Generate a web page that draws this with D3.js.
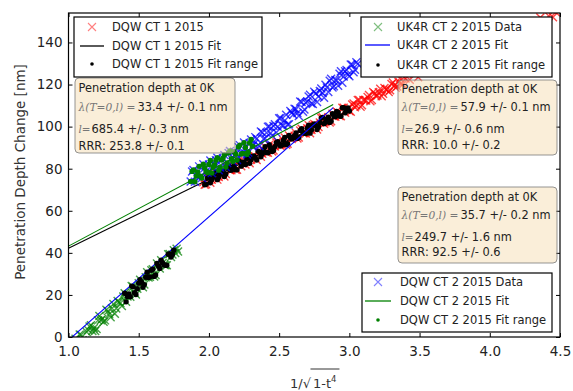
<!DOCTYPE html>
<html><head><meta charset="utf-8">
<script src="https://cdn.jsdelivr.net/npm/d3@7"></script>
<style>html,body{margin:0;padding:0;background:#fff}svg{display:block}</style>
</head><body>
<svg id="c" width="573" height="391"></svg>
<script>
const xTicks = [1.0,1.5,2.0,2.5,3.0,3.5,4.0,4.5];
const yTicks = [0,20,40,60,80,100,120,140];
const xDomain = [1.0, 4.5];
const yDomain = [0, 154];

// DQW CT 1 2015 data (red x)
const dqw1Data = [[1.96,73.6],[1.98,72.6],[2.00,75.8],[2.02,74.7],[2.04,77.6],[2.06,74.8],[2.08,77.3],[2.10,78.9],[2.12,77.5],[2.14,81.4],[2.16,79.3],[2.18,81.3],[2.20,79.5],[2.22,83.3],[2.24,82.6],[2.26,82.0],[2.28,85.9],[2.30,84.2],[2.32,86.1],[2.34,84.1],[2.36,87.8],[2.38,87.1],[2.40,90.4],[2.42,87.6],[2.44,89.8],[2.46,88.6],[2.48,92.4],[2.50,91.7],[2.52,91.3],[2.54,94.8],[2.56,91.9],[2.58,94.8],[2.60,94.7],[2.62,97.0],[2.64,94.8],[2.66,99.0],[2.68,96.9],[2.70,99.2],[2.72,96.9],[2.74,100.8],[2.76,100.6],[2.78,99.8],[2.80,104.1],[2.82,101.4],[2.84,103.5],[2.86,102.0],[2.88,106.1],[2.90,104.7],[2.92,106.7],[2.94,104.9],[2.96,109.0],[2.98,107.9],[3.00,107.4],[3.02,110.5],[3.04,109.2],[3.06,112.7],[3.08,109.4],[3.10,112.6],[3.12,112.4],[3.14,115.0],[3.16,112.6],[3.18,115.7],[3.20,114.8],[3.22,118.0],[3.24,115.6],[3.26,117.7],[3.28,116.4],[3.30,120.3],[3.32,119.5],[3.34,119.1],[3.36,123.0],[3.38,120.0],[3.40,122.9],[3.43,122.3],[3.46,125.2],[3.49,123.5],[3.52,126.3],[3.55,126.3],[3.58,129.3],[3.61,126.8],[3.64,129.6],[3.67,131.3],[3.70,130.1],[3.73,133.9],[3.76,132.5],[3.79,134.5],[3.82,133.2],[3.85,137.1],[3.88,135.7],[3.91,138.4],[3.94,137.2],[3.97,141.2],[4.00,139.6],[4.03,141.7],[4.06,140.4],[4.09,144.0],[4.12,142.8],[4.15,146.0],[4.18,143.9],[4.21,146.4],[4.24,146.4],[4.27,148.8],[4.30,146.7],[4.33,149.8],[4.36,151.9],[4.39,150.0],[4.42,152.6],[4.45,152.0],[4.47,154.4],
  [1.97,72.4],[1.99,75.6],[2.01,73.3],[2.03,75.9],[2.05,78.3],[2.07,76.0],[2.09,78.4],[2.11,76.3],[2.13,80.7],[2.15,79.3],[2.17,80.8],[2.19,79.5],[2.21,83.8],[2.23,81.2],[2.25,83.2],[2.27,85.0],[2.29,82.6],[2.31,85.8],[2.33,85.2],[2.35,88.3],[2.37,85.7],[2.39,88.9],[2.41,87.7],[2.43,91.4],[2.45,88.2],[2.47,90.5],[2.49,92.8],[2.51,90.8],[2.53,93.5],[2.55,91.4],[2.57,95.8],[2.59,94.1],[2.61,95.7],[2.63,94.4],[2.65,98.2],[2.67,97.1],[2.69,96.7],[2.71,100.7],[2.73,98.4],[2.75,101.3],[2.77,98.6],[2.79,102.0],[2.81,104.4],[2.83,102.1],[2.85,104.5],[2.87,102.6],[2.89,105.0],[2.91,107.2],[2.93,105.0],[2.95,109.0],[2.97,106.6],[2.99,108.9],[3.01,107.1],[3.03,111.0],[3.05,110.0],[3.07,112.7],[3.09,110.2],[3.11,112.6],[3.13,114.1],[3.15,112.0],[3.17,116.5],[3.19,114.4],[3.21,116.3],[3.23,114.4],[3.25,118.4],[3.27,117.7],[3.29,117.3],[3.31,121.0],[3.33,118.5],[3.35,121.3],[3.37,120.3],[3.39,123.4]];

// UK4R CT 2 2015 data (green x)
const uk4rData = [[1.02,-3.4],[1.04,-6.4],[1.06,-2.1],[1.08,1.2],[1.10,-1.6],[1.12,-1.8],[1.14,3.3],[1.16,5.6],[1.18,4.2],[1.20,3.8],[1.22,10.0],[1.24,8.5],[1.26,7.9],[1.28,12.3],[1.30,9.4],[1.32,15.7],[1.34,13.6],[1.36,16.5],[1.38,14.7],[1.40,20.8],[1.42,19.3],[1.44,19.1],[1.46,23.9],[1.48,20.2],[1.50,25.6],[1.52,26.0],[1.54,24.9],[1.56,30.8],[1.58,28.6],[1.60,32.2],[1.62,29.5],[1.64,33.8],[1.66,36.5],[1.68,34.3],[1.70,34.1],[1.72,39.5],[1.74,39.2],[1.76,39.9],
  [1.03,-6.2],[1.05,-0.8],[1.07,-2.5],[1.09,1.0],[1.11,-2.4],[1.13,2.4],[1.15,5.0],[1.17,2.8],[1.19,2.9],[1.21,7.9],[1.23,8.0],[1.25,7.2],[1.27,12.9],[1.29,10.8],[1.31,13.7],[1.33,11.0],[1.35,17.1],[1.37,16.1],[1.39,19.2],[1.41,16.7],[1.43,20.5],[1.45,24.2],[1.47,21.0],[1.49,22.9],[1.51,27.2],[1.53,23.6],[1.55,28.4],[1.57,28.3],[1.59,31.7],[1.61,28.8],[1.63,34.9],[1.65,32.6],[1.67,35.2],[1.69,34.1],[1.71,39.3],[1.73,38.0],[1.75,41.2],[1.77,42.0],[1.78,40.6]];

// DQW CT 2 2015 data (blue x)
const dqw2Data = [[1.87,73.9],[1.89,79.4],[1.91,76.5],[1.93,81.1],[1.95,75.6],[1.97,80.3],[1.99,78.1],[2.01,83.9],[2.03,80.7],[2.05,84.0],[2.07,79.3],[2.09,84.1],[2.11,86.5],[2.13,82.7],[2.15,88.4],[2.17,83.4],[2.19,87.0],[2.21,90.3],[2.23,87.0],[2.25,92.4],[2.27,86.8],[2.29,92.2],[2.31,90.7],[2.33,95.0],[2.35,91.2],[2.37,97.7],[2.39,94.1],[2.41,97.1],[2.43,100.1],[2.45,95.6],[2.47,101.1],[2.49,99.9],[2.51,104.1],[2.53,100.4],[2.55,105.6],[2.57,101.1],[2.59,106.6],[2.61,108.5],[2.63,106.5],[2.65,111.9],[2.67,107.1],[2.69,111.3],[2.71,114.3],[2.73,111.0],[2.75,116.6],[2.77,111.7],[2.79,116.9],[2.81,116.0],[2.83,119.9],[2.85,116.5],[2.87,122.8],[2.89,119.2],[2.91,122.0],[2.93,125.1],[2.95,120.9],[2.97,126.3],[2.99,124.6],[3.01,129.5],[3.03,125.8],[3.05,130.6],
  [1.88,78.7],[1.90,73.8],[1.92,78.5],[1.94,76.4],[1.96,82.1],[1.98,78.8],[2.00,82.0],[2.02,78.0],[2.04,81.8],[2.06,85.2],[2.08,80.6],[2.10,85.0],[2.12,80.8],[2.14,87.5],[2.16,84.7],[2.18,88.1],[2.20,84.1],[2.22,91.2],[2.24,87.3],[2.26,90.1],[2.28,87.7],[2.30,93.9],[2.32,91.7],[2.34,94.2],[2.36,90.8],[2.38,97.2],[2.40,94.4],[2.42,99.9],[2.44,97.0],[2.46,100.3],[2.48,97.2],[2.50,104.0],[2.52,100.5],[2.54,102.9],[2.56,101.0],[2.58,107.4],[2.60,105.6],[2.62,108.3],[2.64,105.0],[2.66,111.7],[2.68,108.1],[2.70,111.9],[2.72,115.2],[2.74,110.7],[2.76,115.7],[2.78,114.3],[2.80,118.1],[2.82,113.7],[2.84,118.6],[2.86,121.8],[2.88,118.6],[2.90,122.1],[2.92,119.4],[2.94,126.3],[2.96,123.8],[2.98,126.9],[3.00,123.9],[3.02,129.4],[3.04,127.0],[3.06,129.8]];

// fitted lines (endpoints)
const dqw1Fit = [[1.0,42.2],[3.0,107.8]];
const uk4rFit = [[1.0,-1.5],[2.885,109.0]];
const dqw2Fit = [[1.0,43.2],[2.885,110.5]];

// fit ranges (x limits)
const dqw1Range = [1.97, 3.0];
const uk4rRange = [1.40, 1.75];
const dqw2Range = [1.86, 2.31];

const legend1Labels = ["DQW CT 1 2015","DQW CT 1 2015 Fit","DQW CT 1 2015 Fit range"];
const legend2Labels = ["UK4R CT 2 2015 Data","UK4R CT 2 2015 Fit","UK4R CT 2 2015 Fit range"];
const legend3Labels = ["DQW CT 2 2015 Data","DQW CT 2 2015 Fit","DQW CT 2 2015 Fit range"];

const annTitle = "Penetration depth at 0K";
const annLambda = ["33.4 +/- 0.1 nm","57.9 +/- 0.1 nm","35.7 +/- 0.2 nm"];
const annMfp = ["685.4 +/- 0.3 nm","26.9 +/- 0.6 nm","249.7 +/- 1.6 nm"];
const annRRR = ["253.8 +/- 0.1","10.0 +/- 0.2","92.5 +/- 0.6"];

const FONT = "DejaVu Sans";
const svg = d3.select("#c");
svg.append("rect").attr("width",573).attr("height",391).attr("fill","#fff");

const L = 68.5, R = 560, T = 13, B = 337;
const x = d3.scaleLinear().domain(xDomain).range([L, R]);
const y = d3.scaleLinear().domain(yDomain).range([B, T]);

svg.append("defs").append("clipPath").attr("id","clip")
  .append("rect").attr("x",L).attr("y",T).attr("width",R-L).attr("height",B-T);
const plot = svg.append("g").attr("clip-path","url(#clip)");

const S = 4;
function crossPath(cx, cy, s){ return `M${cx-s},${cy-s}L${cx+s},${cy+s}M${cx-s},${cy+s}L${cx+s},${cy-s}`; }
function crosses(data, color){
  plot.append("g").selectAll("path").data(data).join("path")
    .attr("d", d => crossPath(x(d[0]), y(d[1]), S))
    .attr("fill","none").attr("stroke",color).attr("stroke-width",1.4).attr("stroke-opacity",0.72);
}
function fitLine(data, color){
  plot.append("path").datum(data)
    .attr("d", d3.line().x(d=>x(d[0])).y(d=>y(d[1])))
    .attr("fill","none").attr("stroke",color).attr("stroke-width",1.1);
}
function dots(data, range, color){
  plot.append("g").selectAll("circle")
    .data(data.filter(d => d[0] >= range[0] && d[0] <= range[1])).join("circle")
    .attr("cx", d=>x(d[0])).attr("cy", d=>y(d[1])).attr("r",2.7).attr("fill",color);
}

crosses(dqw1Data, "#ff0000");
fitLine(dqw1Fit, "#000000");
dots(dqw1Data, dqw1Range, "#000000");
crosses(uk4rData, "#008000");
fitLine(uk4rFit, "#0000ff");
dots(uk4rData, uk4rRange, "#000000");
crosses(dqw2Data, "#0000ff");
fitLine(dqw2Fit, "#008000");
dots(dqw2Data, dqw2Range, "#008000");

// axes
function styleAxis(g){
  g.select(".domain").remove();
  g.selectAll(".tick line").attr("stroke","#000");
  g.selectAll("text").attr("font-family",FONT).attr("font-size","13.5px").attr("fill","#222");
}
svg.append("g").attr("transform",`translate(0,${B})`)
  .call(d3.axisBottom(x).tickValues(xTicks).tickFormat(d3.format(".1f")).tickSize(-4).tickPadding(9)).call(styleAxis);
svg.append("g").attr("transform",`translate(0,${T})`)
  .call(d3.axisTop(x).tickValues(xTicks).tickFormat("").tickSize(-4)).call(styleAxis);
svg.append("g").attr("transform",`translate(${L},0)`)
  .call(d3.axisLeft(y).tickValues(yTicks).tickFormat(d3.format("d")).tickSize(-4).tickPadding(6)).call(styleAxis);
svg.append("g").attr("transform",`translate(${R},0)`)
  .call(d3.axisRight(y).tickValues(yTicks).tickFormat("").tickSize(-4)).call(styleAxis);
svg.append("rect").attr("x",L).attr("y",T).attr("width",R-L).attr("height",B-T)
  .attr("fill","none").attr("stroke","#000").attr("stroke-width",1.2);

// annotation boxes
function annotation(bx, by, bw, bh, rows, i){
  const g = svg.append("g");
  g.append("rect").attr("x",bx).attr("y",by).attr("width",bw).attr("height",bh).attr("rx",4)
    .attr("fill","#f5deb3").attr("fill-opacity",0.5).attr("stroke","#7a7a7a").attr("stroke-opacity",0.8);
  const tx = bx + 3.5;
  const t = (yy, str) => g.append("text").attr("x",tx).attr("y",yy).attr("dominant-baseline","central")
      .attr("font-family",FONT).attr("font-size","11.4px").attr("fill","#222").text(str);
  t(rows[0], annTitle);
  g.append("text").attr("x",tx).attr("y",rows[1]).attr("dominant-baseline","central")
    .attr("font-family","DejaVu Serif").attr("font-size","11px").attr("font-style","italic").attr("fill","#777")
    .attr("textLength",57).attr("lengthAdjust","spacingAndGlyphs").text("λ(T=0,l) =");
  g.append("text").attr("x",tx+59).attr("y",rows[1]).attr("dominant-baseline","central")
    .attr("font-family",FONT).attr("font-size","11.4px").attr("fill","#222").text(annLambda[i]);
  g.append("text").attr("x",tx).attr("y",rows[2]).attr("dominant-baseline","central")
    .attr("font-family","DejaVu Serif").attr("font-size","11px").attr("font-style","italic").attr("fill","#777")
    .attr("textLength",12).attr("lengthAdjust","spacingAndGlyphs").text("l=");
  g.append("text").attr("x",tx+13).attr("y",rows[2]).attr("dominant-baseline","central")
    .attr("font-family",FONT).attr("font-size","11.4px").attr("fill","#222").text(annMfp[i]);
  t(rows[3], "RRR: " + annRRR[i]);
}
annotation(75, 78, 160, 75, [88,107,129,146], 0);
annotation(398, 80, 159, 75, [89,107,129,145], 1);
annotation(398, 187, 159, 76, [197,215,237,252], 2);

// legends
function legend(box, mx, lx0, lx1, tx, rows, labels, mk){
  const g = svg.append("g");
  g.append("rect").attr("x",box[0]).attr("y",box[1]).attr("width",box[2]-box[0]).attr("height",box[3]-box[1])
    .attr("fill","#fff").attr("stroke","#000").attr("stroke-width",1.2);
  g.append("path").attr("d",crossPath(mx, rows[0], 4)).attr("fill","none")
    .attr("stroke",mk[0]).attr("stroke-opacity",0.5).attr("stroke-width",1.1);
  g.append("line").attr("x1",lx0).attr("x2",lx1).attr("y1",rows[1]).attr("y2",rows[1])
    .attr("stroke",mk[1]).attr("stroke-width",1.3);
  g.append("circle").attr("cx",mx).attr("cy",rows[2]).attr("r",1.8).attr("fill",mk[2]);
  g.selectAll("text.l").data(labels).join("text").attr("class","l")
    .attr("x",tx).attr("y",(d,i)=>rows[i]).attr("dominant-baseline","central")
    .attr("font-family",FONT).attr("font-size","11.5px").attr("fill","#222").text(d=>d);
}
legend([74,17,262,77], 92, 80, 104, 112, [27,46,64], legend1Labels, ["#ff0000","#000000","#000000"]);
legend([361,17,552,77], 378, 365, 390, 397, [27,45,65], legend2Labels, ["#008000","#0000ff","#000000"]);
legend([362,273,552,332], 378, 365, 391, 400, [282,301,320], legend3Labels, ["#0000ff","#008000","#008000"]);

// axis labels
svg.append("text").attr("transform","translate(20,172) rotate(-90)")
  .attr("text-anchor","middle").attr("dominant-baseline","central")
  .attr("font-family",FONT).attr("font-size","13.5px").attr("fill","#333")
  .text("Penetration Depth Change [nm]");

const xl = svg.append("g");
const base = 388, fs = 13;
const p1 = xl.append("text").attr("y",base).attr("font-family",FONT).attr("font-size",fs+"px").attr("fill","#333").text("1/√");
const w1 = p1.node().getComputedTextLength();
const p2 = xl.append("text").attr("y",base).attr("font-family",FONT).attr("font-size",fs+"px").attr("fill","#333").text("1-t");
const w2 = p2.node().getComputedTextLength();
const p3 = xl.append("text").attr("y",base-6).attr("font-family",FONT).attr("font-size","8.5px").attr("fill","#333").text("4");
const w3 = p3.node().getComputedTextLength();
const total = w1 + 2 + w2 + w3 + 2;
const x0 = (L + R)/2 - total/2;
p1.attr("x", x0);
p2.attr("x", x0 + w1 + 2);
p3.attr("x", x0 + w1 + 2 + w2);
xl.append("line").attr("x1", x0 + w1 - 0.5).attr("x2", x0 + total + 1)
  .attr("y1", 369).attr("y2", 369).attr("stroke","#333").attr("stroke-width",1);
</script>
</body></html>
